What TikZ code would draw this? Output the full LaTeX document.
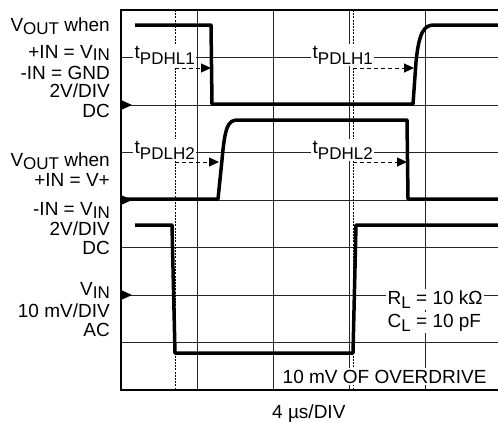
\documentclass[tikz,border=0pt]{standalone}
\usepackage{fontspec}
\setmainfont{Liberation Sans}
\usetikzlibrary{arrows.meta}
\newcommand{\lo}[2][3pt]{\raisebox{-#1}{\fontsize{17}{17}\selectfont #2}}

\begin{document}
\begin{tikzpicture}[x=1pt, y=-1pt, font=\fontsize{19}{22}\selectfont,
	gridline/.style={line width=0.9pt, black!85},
	frame/.style={line width=1.8pt},
	trace/.style={line width=3.5pt, line join=round},
	dots/.style={line width=0.8pt, dash pattern=on 2pt off 1.2pt},
	lbl/.style={fill=white, inner sep=1.5pt, anchor=base west},
	txt/.style={anchor=base east, inner sep=0pt},
	delay/.style={line width=0.9pt, dash pattern=on 4pt off 3pt, -{Triangle[length=10pt, width=9pt]}}]
		\useasboundingbox (0,0) rectangle (498,423);
		
		% grid
		\foreach \y in {57.5, 105, 152.5, 200, 247.5, 295, 342.5}
			\draw[gridline] (121,\y) -- (498,\y);
		\foreach \x in {197, 273, 349, 425}
			\draw[gridline] (\x,10) -- (\x,390);
		\draw[dots] (175,10) -- (175,390);
		\draw[dots] (353,10) -- (353,390);
		\draw[frame] (498,10) -- (121,10) -- (121,390) -- (498,390);
		
		% delay labels
		\node[lbl] (hl1) at (133,58) {t\lo[6pt]{PDHL1}};
		\node[lbl] (lh1) at (311,58) {t\lo[6pt]{PDLH1}};
		\node[lbl] (lh2) at (133,153) {t\lo[6pt]{PDLH2}};
		\node[lbl] (hl2) at (311,153) {t\lo[6pt]{PDHL2}};
		\node[lbl] (rl) at (386,304) {R\lo[4pt]{L} = 10 kΩ};
		\node[lbl] (cl) at (386,327) {C\lo[4pt]{L} = 10 pF};
		\node[lbl] (od) at (281,383) {10 mV OF OVERDRIVE};
		
		% delay arrows
		\coordinate (s1) at (175,68);
		\coordinate (e1) at (211,68);
		\coordinate (s2) at (353,68);
		\coordinate (e2) at (414,68);
		\coordinate (s3) at (175,162);
		\coordinate (e3) at (219,162);
		\coordinate (s4) at (353,162);
		\coordinate (e4) at (407,162);
		\draw[delay] (s1) -- (e1);
		\draw[delay] (s2) -- (e2);
		\draw[delay] (s3) -- (e3);
		\draw[delay] (s4) -- (e4);
		
		% traces
		\draw[trace] (135,25) -- (211,25) -- (212,104) -- (413,104) -- (416,62)
			.. controls (419,32) and (424,25) .. (434,25) -- (498,25);
		\draw[trace] (121,199) -- (218,199) -- (222,160)
			.. controls (225,126) and (228,120) .. (238,120) -- (407,120) -- (408,199) -- (498,199);
		\draw[trace] (135,225) -- (172,225) -- (175,353) -- (353,353) -- (356,225) -- (498,225);
		
		% ground markers
		\foreach \y in {105, 200, 295}
			\fill (121,\y-5) -- (132,\y) -- (121,\y+5) -- cycle;
		
		% channel text
		\node[txt] (o1) at (110,31) {V\lo{OUT} when};
		\node[txt] (p1) at (110,58) {+IN = V\lo[2.5pt]{IN}};
		\node[txt] (m1) at (110,79) {-IN = GND};
		\node[txt] (d1) at (110,97.5) {2V/DIV};
		\node[txt] (c1) at (110,117) {DC};
		\node[txt] (o2) at (110,166) {V\lo{OUT} when};
		\node[txt] (p2) at (110,186) {+IN = V+};
		\node[txt] (m2) at (110,215) {-IN = V\lo{IN}};
		\node[txt] (d2) at (110,235) {2V/DIV};
		\node[txt] (c2) at (110,254) {DC};
		\node[txt] (v3) at (110,295) {V\lo{IN}};
		\node[txt] (d3) at (110,317) {10 mV/DIV};
		\node[txt] (c3) at (110,336) {AC};
		\node[anchor=base west, inner sep=0pt] (td) at (272,418) {4 µs/DIV};
	\end{tikzpicture}
\end{document}
